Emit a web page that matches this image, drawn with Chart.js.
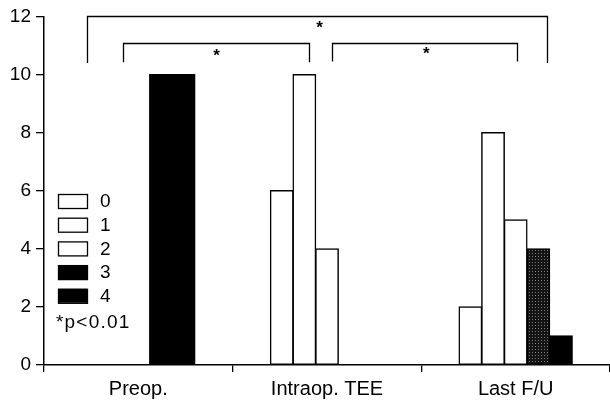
<!DOCTYPE html>
<html>
<head>
<meta charset="utf-8">
<script src="https://cdn.jsdelivr.net/npm/chart.js@4.4.1/dist/chart.umd.min.js"></script>
<style>
  html, body { margin: 0; padding: 0; background: #fff; }
  #wrap { width: 610px; height: 401px; position: relative; }
</style>
</head>
<body>
<div id="wrap"><canvas id="c" width="610" height="401"></canvas></div>
<script>
// ---- data ----
const categories = ['Preop.', 'Intraop. TEE', 'Last F/U'];
const seriesLabels = ['0', '1', '2', '3', '4'];
const grade0 = [0, 6, 2];
const grade1 = [0, 10, 8];
const grade2 = [0, 4, 5];
const grade3 = [10, 0, 4];
const grade4 = [10, 0, 1];
const yTicks = [0, 2, 4, 6, 8, 10, 12];
const noteText = '*p<0.01';
// significance brackets: x in category index units, y in data units
const bracketFrom = [-0.27, -0.082, 1.024];
const bracketTo = [2.167, 0.902, 2.008];
const bracketTop = [12.0, 11.08, 11.1];
const bracketBottom = [10.4, 10.42, 10.45];
const starX = [0.96, 0.415, 1.526];
const starY = [11.72, 10.75, 10.82];

// stippled fill for grade 3 at last follow-up
function stipple() {
  const p = document.createElement('canvas');
  p.width = 3; p.height = 3;
  const g = p.getContext('2d');
  g.fillStyle = '#141414'; g.fillRect(0, 0, 3, 3);
  g.fillStyle = '#7a7a7a'; g.fillRect(1, 1, 1, 1);
  return g.createPattern(p, 'repeat');
}
const ctx0 = document.getElementById('c').getContext('2d');
const dotted = stipple();

const FONT = "'Liberation Sans', Arial, sans-serif";
const mk = (label, data, bg) => ({
  label, data, backgroundColor: bg, borderColor: '#000', borderWidth: 1.5,
  borderSkipped: false, categoryPercentage: 0.6, barPercentage: 1.0, inflateAmount: 0.6
});

const overlay = {
  id: 'overlay',
  afterDraw(chart) {
    const c = chart.ctx, xs = chart.scales.x, ys = chart.scales.y;
    c.save();
    // brackets
    c.strokeStyle = '#000'; c.lineWidth = 1.3;
    for (let i = 0; i < bracketFrom.length; i++) {
      const x1 = Math.round(xs.getPixelForValue(bracketFrom[i])) + 0.5;
      const x2 = Math.round(xs.getPixelForValue(bracketTo[i])) + 0.5;
      const yt = Math.round(ys.getPixelForValue(bracketTop[i])) + 0.5;
      const yb = ys.getPixelForValue(bracketBottom[i]);
      c.beginPath();
      c.moveTo(x1, yb); c.lineTo(x1, yt); c.lineTo(x2, yt); c.lineTo(x2, yb);
      c.stroke();
    }
    c.fillStyle = '#000';
    c.font = 'bold 17px ' + FONT;
    c.textAlign = 'center'; c.textBaseline = 'middle';
    for (let i = 0; i < starX.length; i++) {
      c.fillText('*', xs.getPixelForValue(starX[i]), ys.getPixelForValue(starY[i]) + 4);
    }
    // legend
    const fills = chart.data.datasets.map(d => Array.isArray(d.backgroundColor) ? d.backgroundColor[0] : d.backgroundColor);
    const bx = 58, by = 194, bw = 29, bh = 14, step = 23.7;
    c.font = '19px ' + FONT;
    c.textAlign = 'left'; c.textBaseline = 'middle';
    for (let i = 0; i < seriesLabels.length; i++) {
      const y = by + i * step;
      c.fillStyle = fills[i];
      c.fillRect(bx, y, bw, bh);
      c.lineWidth = 1.3; c.strokeStyle = '#000';
      c.strokeRect(bx + 0.5, y + 0.5, bw, bh);
      c.fillStyle = '#000';
      c.fillText(seriesLabels[i], 100, y + bh / 2 + 1);
    }
    c.font = '19px ' + FONT;
    if ('letterSpacing' in c) c.letterSpacing = '1.2px';
    c.fillText(noteText, 56, by + 5 * step + 10);
    c.restore();
  }
};

new Chart(ctx0, {
  type: 'bar',
  data: {
    labels: categories,
    datasets: [
      mk(seriesLabels[0], grade0, '#fff'),
      mk(seriesLabels[1], grade1, '#fff'),
      mk(seriesLabels[2], grade2, '#fff'),
      mk(seriesLabels[3], grade3, ['#000', '#000', dotted]),
      mk(seriesLabels[4], grade4, '#000')
    ]
  },
  options: {
    responsive: false,
    animation: false,
    layout: { padding: { top: 15, right: 0, left: 0, bottom: 0 } },
    plugins: { legend: { display: false }, tooltip: { enabled: false } },
    scales: {
      x: {
        grid: { offset: true, drawOnChartArea: false, drawTicks: true, tickLength: 7, color: '#000', lineWidth: 1.3 },
        border: { color: '#000', width: 1.5 },
        ticks: { color: '#000', font: { family: FONT, size: 20 }, padding: 5, maxRotation: 0 },
        afterFit(s) { s.height = 36; }
      },
      y: {
        min: 0, max: 12,
        afterBuildTicks(s) { s.ticks = yTicks.map(v => ({ value: v })); },
        grid: { drawOnChartArea: false, drawTicks: true, tickLength: 8, color: '#000', lineWidth: 1.3 },
        border: { color: '#000', width: 1.5 },
        ticks: { color: '#000', font: { family: FONT, size: 19 }, padding: 5 },
        afterFit(s) { s.width = 44; }
      }
    }
  },
  plugins: [overlay]
});
</script>
</body>
</html>
